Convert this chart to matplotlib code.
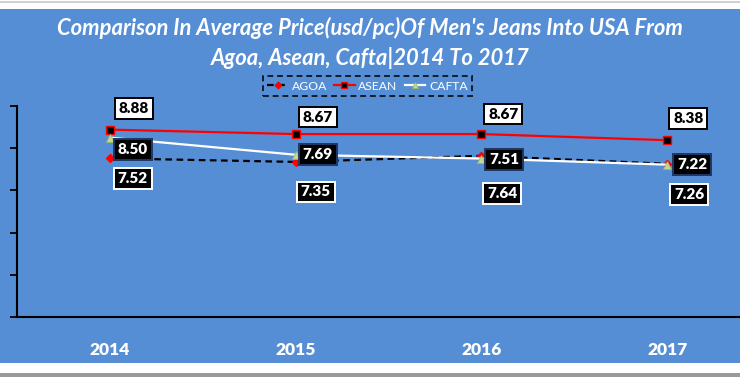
import matplotlib
matplotlib.use('Agg')
import matplotlib.pyplot as plt
from matplotlib.patches import Rectangle

years = ['2014', '2015', '2016', '2017']
agoa = [7.52, 7.35, 7.64, 7.26]
asean = [8.88, 8.67, 8.67, 8.38]
cafta = [8.50, 7.69, 7.51, 7.22]
title = "Comparison In Average Price(usd/pc)Of Men's Jeans Into USA From\nAgoa, Asean, Cafta|2014 To 2017"

W, H = 740, 377
BLUE = '#558ED5'
plt.rcParams['font.family'] = ['Lato', 'DejaVu Sans']

fig = plt.figure(figsize=(W / 100, H / 100), dpi=100)
fig.patch.set_facecolor('white')


def fy(px):
    return 1 - px / H


# background panels
fig.patches.append(Rectangle((0, fy(363)), 1, (363 - 9) / H, transform=fig.transFigure,
                             facecolor=BLUE, edgecolor='none', zorder=-10))
fig.patches.append(Rectangle((0, fy(3)), 1, 1.5 / H, transform=fig.transFigure,
                             facecolor='#d0d0d0', edgecolor='none', zorder=-10))
fig.patches.append(Rectangle((0, 0), 1, 4 / H, transform=fig.transFigure,
                             facecolor='#9a9a9a', edgecolor='none', zorder=-10))

ax = fig.add_axes([17 / W, fy(317), 743 / W, (317 - 106) / H])
ax.set_zorder(1)
ax.patch.set_alpha(0)
x = list(range(len(years)))

ax.plot(x, agoa, color='black', lw=1.6, ls=(0, (3, 2)), marker='D', ms=4.5,
        mfc='red', mec='red', label='AGOA', zorder=3)
ax.plot(x, asean, color='red', lw=1.6, marker='s', ms=5.5,
        mfc='black', mec='red', mew=1, label='ASEAN', zorder=3)
ax.plot(x, cafta, color='white', lw=1.6, marker='^', ms=5.5,
        mfc='#c3d69b', mec='#9bbb59', mew=0.6, label='CAFTA', zorder=4)

ax.set_xlim(-0.5, len(years) - 0.5)
ax.set_ylim(0, 10)
ax.set_yticks([0, 2, 4, 6, 8, 10])
ax.set_yticklabels([])
ax.tick_params(axis='y', direction='out', length=5, width=1.3, color='black')
ax.set_xticks(x)
ax.set_xticklabels(years, fontsize=12.5, fontweight='heavy', color='white')
ax.tick_params(axis='x', length=0, pad=18)
for s in ['top', 'right']:
    ax.spines[s].set_visible(False)
for s in ['left', 'bottom']:
    ax.spines[s].set_color('black')
    ax.spines[s].set_linewidth(1.5)

# data labels
asean_off = [(24, 21), (22, 17), (22, 20), (21, 22)]
cafta_off = [(23, -12), (22, 0), (23, -1), (25, 0)]
agoa_off = [(23, -20), (20, -30), (21, -38), (22, -31)]


def labels(vals, offs, fc, tc, ec):
    for i, (v, o) in enumerate(zip(vals, offs)):
        ax.annotate(f'{v:.2f}', (i, v), xytext=o, textcoords='offset pixels',
                    ha='center', va='center', fontsize=11, fontweight='heavy', color=tc,
                    bbox=dict(boxstyle='square,pad=0.25', fc=fc, ec=ec, lw=1.4),
                    zorder=6, annotation_clip=False)


labels(asean, asean_off, 'white', 'black', 'black')
labels(cafta, cafta_off, 'black', 'white', '#1f3864')
labels(agoa, agoa_off, 'black', 'white', 'white')

fig.text(0.5, fy(43), title, ha='center', va='center', color='white',
         fontsize=15.8, fontweight='bold', style='italic', linespacing=1.4)

leg = fig.legend(loc='center', bbox_to_anchor=(367.5 / W, fy(86)), ncol=3,
                 fontsize=8.7, frameon=True, handlelength=1.7, handletextpad=0.3,
                 columnspacing=0.6, borderpad=0.35, fancybox=False, markerscale=0.75)
for t in leg.get_texts():
    t.set_color('white')
fr = leg.get_frame()
fr.set_facecolor('none')
fr.set_edgecolor('black')
fr.set_linestyle((0, (3, 2)))
fr.set_linewidth(1.4)

fig.savefig('out.png', dpi=100, facecolor=fig.get_facecolor())
